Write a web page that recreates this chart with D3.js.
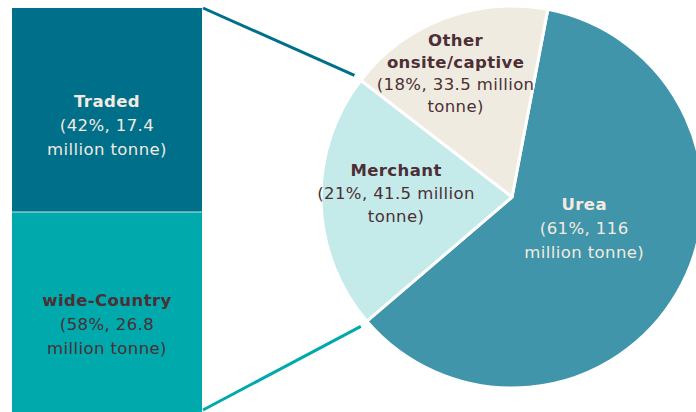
<!DOCTYPE html>
<html><head><meta charset="utf-8">
<script src="https://cdn.jsdelivr.net/npm/d3@7"></script>
<style>html,body{margin:0;padding:0;background:#fff;overflow:hidden}svg{display:block}text{font-family:"DejaVu Sans",Verdana,sans-serif;letter-spacing:0.4px}</style>
</head><body>
<script>
// Pie data
const pieCategories = ["Urea", "Merchant", "Other onsite/captive"];
const pieValues = [116, 41.5, 33.5];
const piePercents = ["61%", "21%", "18%"];
const pieLabelLines = [
  [{t:"Urea",b:true},{t:"(61%, 116"},{t:"million tonne)"}],
  [{t:"Merchant",b:true},{t:"(21%, 41.5 million"},{t:"tonne)"}],
  [{t:"Other",b:true},{t:"onsite/captive",b:true},{t:"(18%, 33.5 million"},{t:"tonne)"}]
];
// Bar (breakdown of Merchant)
const barCategories = ["Traded", "wide-Country"];
const barPercents = [42, 58];
const barValues = [17.4, 26.8];
const barLabelLines = [
  [{t:"Traded",b:true},{t:"(42%, 17.4"},{t:"million tonne)"}],
  [{t:"wide-Country",b:true},{t:"(58%, 26.8"},{t:"million tonne)"}]
];

const W = 696, H = 412;
const pieColors = ["#4195aa", "#c5eaea", "#f0ebe0"];
const pieText = ["#f3ebe0", "#4b2f35", "#4b2f35"];
const barColors = ["#006f8a", "#00a9ab"];
const barText = ["#f3ebe0", "#4b2f35"];
const labelRadius = [80, 110, 128];
const labelShift = [[3,-9],[-6,-7],[-11,-4]];
const labelLH = [24, 23, 22];

const svg = d3.select("body").append("svg").attr("width", W).attr("height", H);

// Pie
const cx = 512, cy = 197, r = 191;
const start = 10.8 * Math.PI / 180;
const pie = d3.pie().sort(null).startAngle(start).endAngle(start + 2 * Math.PI);
const arcs = pie(pieValues);
const arc = d3.arc().innerRadius(0).outerRadius(r);
const g = svg.append("g").attr("transform", `translate(${cx},${cy})`);
g.selectAll("path").data(arcs).join("path")
  .attr("d", arc).attr("fill", (d, i) => pieColors[i])
  .attr("stroke", "#fff").attr("stroke-width", 3).attr("stroke-linejoin", "round");

const fs = 16.5;
arcs.forEach((d, i) => {
  const a = (d.startAngle + d.endAngle) / 2;
  const x = Math.sin(a) * labelRadius[i] + labelShift[i][0];
  const y = -Math.cos(a) * labelRadius[i] + labelShift[i][1];
  const lines = pieLabelLines[i];
  const lh = labelLH[i];
  const t = g.append("text").attr("text-anchor", "middle").attr("fill", pieText[i]).attr("font-size", fs);
  const y0 = y - (lines.length - 1) * lh / 2 + fs * 0.35;
  lines.forEach((l, k) => {
    t.append("tspan").attr("x", x).attr("y", y0 + k * lh)
      .attr("font-weight", l.b ? "bold" : "normal").text(l.t);
  });
});

// Bar
const barX0 = 12, barX1 = 202, barTop = 8;
const total = d3.sum(barPercents);
const y = d3.scaleLinear().domain([0, total]).range([barTop, barTop + (212 - barTop) * total / barPercents[0]]);
let cum = 0;
const segs = barPercents.map((v, i) => { const s = {i, y0: cum, y1: cum + v}; cum += v; return s; });
svg.selectAll("rect.bar").data(segs).join("rect").attr("class", "bar")
  .attr("x", barX0).attr("width", barX1 - barX0)
  .attr("y", d => y(d.y0)).attr("height", d => y(d.y1) - y(d.y0))
  .attr("fill", d => barColors[d.i]);
svg.append("line").attr("x1", barX0).attr("x2", barX1).attr("y1", y(segs[1].y0)).attr("y2", y(segs[1].y0))
  .attr("stroke", "#bfe3e6").attr("stroke-width", 1);

const barLabelCenters = [125, 324.5];
segs.forEach((s, i) => {
  const lines = barLabelLines[i];
  const cxL = (barX0 + barX1) / 2;
  const lh = 24;
  const t = svg.append("text").attr("text-anchor", "middle").attr("fill", barText[i]).attr("font-size", fs);
  const y0 = barLabelCenters[i] - (lines.length - 1) * lh / 2 + fs * 0.35;
  lines.forEach((l, k) => {
    t.append("tspan").attr("x", cxL).attr("y", y0 + k * lh)
      .attr("font-weight", l.b ? "bold" : "normal").text(l.t);
  });
});

// Connectors to Merchant slice
const m = arcs[1];
const rc = r + 8;
svg.append("line").attr("x1", barX1 + 1).attr("y1", barTop)
  .attr("x2", cx + Math.sin(m.endAngle) * rc).attr("y2", cy - Math.cos(m.endAngle) * rc)
  .attr("stroke", barColors[0]).attr("stroke-width", 3);
svg.append("line").attr("x1", barX1 + 1).attr("y1", H - 2)
  .attr("x2", cx + Math.sin(m.startAngle) * rc).attr("y2", cy - Math.cos(m.startAngle) * rc)
  .attr("stroke", barColors[1]).attr("stroke-width", 3);
</script>
</body></html>
